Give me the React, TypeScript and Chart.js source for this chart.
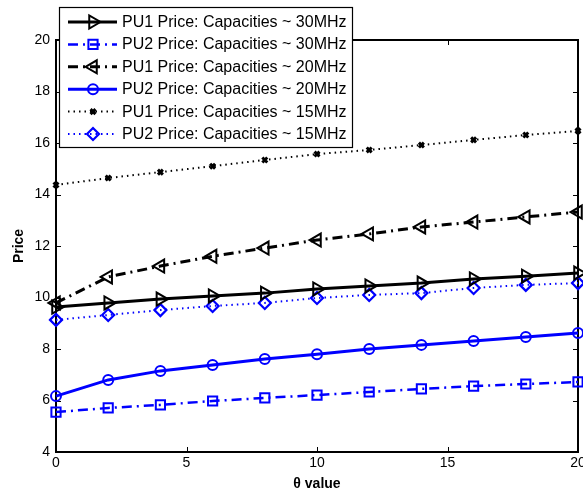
import React, { useEffect, useRef } from 'react';
import { Chart, registerables } from 'chart.js';
import { drawPoint } from 'chart.js/helpers';

Chart.register(...registerables);

const thetaValues = [0, 2, 4, 6, 8, 10, 12, 14, 16, 18, 20];
const pu1Cap30 = [9.63, 9.79, 9.94, 10.06, 10.17, 10.33, 10.45, 10.56, 10.72, 10.83, 10.95];
const pu2Cap30 = [5.55, 5.71, 5.83, 5.98, 6.1, 6.21, 6.33, 6.45, 6.56, 6.64, 6.72];
const pu1Cap20 = [9.79, 10.8, 11.22, 11.6, 11.92, 12.23, 12.47, 12.74, 12.93, 13.13, 13.32];
const pu2Cap20 = [6.17, 6.8, 7.15, 7.38, 7.61, 7.8, 8.0, 8.16, 8.31, 8.47, 8.62];
const pu1Cap15 = [14.37, 14.64, 14.87, 15.1, 15.34, 15.57, 15.73, 15.92, 16.12, 16.31, 16.47];
const pu2Cap15 = [9.13, 9.32, 9.51, 9.67, 9.79, 9.98, 10.1, 10.17, 10.37, 10.49, 10.56];

const seriesLabels = [
  'PU1 Price: Capacities ~ 30MHz',
  'PU2 Price: Capacities ~ 30MHz',
  'PU1 Price: Capacities ~ 20MHz',
  'PU2 Price: Capacities ~ 20MHz',
  'PU1 Price: Capacities ~ 15MHz',
  'PU2 Price: Capacities ~ 15MHz',
];
const xTickValues = [0, 5, 10, 15, 20];
const yTickValues = [4, 6, 8, 10, 12, 14, 16, 18, 20];
const xTitle = 'θ value';
const yTitle = 'Price';

const FONT = "'Liberation Sans', Arial, sans-serif";
const BLACK = '#000000';
const BLUE = '#0000ff';
const DOT = [1.5, 4];
const DASHDOT = [10, 5, 2, 5];

const toPoints = (ys: number[]) => ys.map((y, i) => ({ x: thetaValues[i], y }));

const frameAndTicks = {
  id: 'frameAndTicks',
  beforeDatasetsDraw(chart: any) {
    const { ctx, chartArea } = chart;
    const { left, right, top, bottom } = chartArea;
    const xs = chart.scales.x;
    const ys = chart.scales.y;
    ctx.save();
    ctx.strokeStyle = BLACK;
    ctx.lineWidth = 2;
    ctx.setLineDash([]);
    ctx.strokeRect(left, top, right - left, bottom - top);
    ctx.lineWidth = 1;
    const tl = 5;
    ctx.beginPath();
    xTickValues.forEach((v) => {
      const px = Math.round(xs.getPixelForValue(v)) + 0.5;
      ctx.moveTo(px, bottom);
      ctx.lineTo(px, bottom - tl);
      ctx.moveTo(px, top);
      ctx.lineTo(px, top + tl);
    });
    yTickValues.forEach((v) => {
      const py = Math.round(ys.getPixelForValue(v)) + 0.5;
      ctx.moveTo(left, py);
      ctx.lineTo(left + tl, py);
      ctx.moveTo(right, py);
      ctx.lineTo(right - tl, py);
    });
    ctx.stroke();
    ctx.restore();
  },
};

const boxLegend = {
  id: 'boxLegend',
  afterDraw(chart: any) {
    const { ctx } = chart;
    const bx = 59, by = 7, bw = 293, bh = 140;
    ctx.save();
    ctx.fillStyle = '#ffffff';
    ctx.fillRect(bx, by, bw, bh);
    ctx.strokeStyle = BLACK;
    ctx.lineWidth = 1.2;
    ctx.setLineDash([]);
    ctx.strokeRect(bx + 0.5, by + 0.5, bw, bh);
    chart.data.datasets.forEach((ds: any, i: number) => {
      const cy = 22 + i * 22.4;
      ctx.save();
      ctx.strokeStyle = ds.borderColor;
      ctx.lineWidth = ds.borderWidth;
      ctx.setLineDash(ds.borderDash || []);
      ctx.beginPath();
      ctx.moveTo(68, cy);
      ctx.lineTo(117, cy);
      ctx.stroke();
      ctx.setLineDash([]);
      ctx.fillStyle = 'rgba(0,0,0,0)';
      ctx.lineWidth = ds.pointBorderWidth;
      drawPoint(ctx, {
        pointStyle: ds.pointStyle,
        rotation: ds.pointRotation || 0,
        radius: ds.pointRadius,
        borderWidth: ds.pointBorderWidth,
      } as any, 93, cy);
      ctx.restore();
      ctx.fillStyle = BLACK;
      ctx.font = `16px ${FONT}`;
      ctx.textBaseline = 'middle';
      ctx.textAlign = 'left';
      ctx.fillText(ds.label, 122, cy + 0.5);
    });
    ctx.restore();
  },
};

export default function App() {
  const ref = useRef<HTMLCanvasElement | null>(null);
  useEffect(() => {
    document.body.style.margin = '0';
    const canvas = ref.current!;
    const mk = (
      label: string,
      data: number[],
      color: string,
      dash: number[],
      style: string,
      radius: number,
      rotation = 0,
      width = 2.5,
      pbw = 2,
    ) => ({
      label,
      data: toPoints(data),
      borderColor: color,
      backgroundColor: 'rgba(0,0,0,0)',
      borderWidth: width,
      borderDash: dash,
      pointStyle: style,
      pointRadius: radius,
      pointRotation: rotation,
      pointBorderWidth: pbw,
      pointBorderColor: color,
      pointBackgroundColor: 'rgba(0,0,0,0)',
      tension: 0,
      clip: false,
    });
    const chart = new Chart(canvas, {
      type: 'line',
      data: {
        datasets: [
          mk(seriesLabels[0], pu1Cap30, BLACK, [], 'triangle', 7.5, 90, 3, 2),
          mk(seriesLabels[1], pu2Cap30, BLUE, DASHDOT, 'rect', 6.5, 0, 2.5, 2),
          mk(seriesLabels[2], pu1Cap20, BLACK, DASHDOT, 'triangle', 7.5, -90, 3, 2),
          mk(seriesLabels[3], pu2Cap20, BLUE, [], 'circle', 5, 0, 3, 2),
          mk(seriesLabels[4], pu1Cap15, BLACK, DOT, 'crossRot', 3.5, 0, 2, 3),
          mk(seriesLabels[5], pu2Cap15, BLUE, DOT, 'rectRot', 6, 0, 2, 2.2),
        ] as any,
      },
      options: {
        responsive: false,
        animation: false,
        devicePixelRatio: 1,
        layout: { autoPadding: false, padding: { top: 40, right: 5, left: 0, bottom: 0 } },
        plugins: { legend: { display: false }, tooltip: { enabled: false } },
        scales: {
          x: {
            type: 'linear',
            min: 0,
            max: 20,
            afterBuildTicks: (s: any) => {
              s.ticks = xTickValues.map((v) => ({ value: v }));
            },
            afterFit: (s: any) => {
              s.height = 42;
              s.paddingLeft = 0;
              s.paddingRight = 0;
            },
            grid: { display: false, drawTicks: false },
            border: { display: false },
            ticks: { color: BLACK, font: { size: 14, family: FONT }, padding: 3, maxRotation: 0, autoSkip: false },
            title: { display: true, text: xTitle, color: BLACK, font: { size: 14, weight: 'bold', family: FONT }, padding: { top: 0, bottom: 1 } },
          },
          y: {
            type: 'linear',
            min: 4,
            max: 20,
            afterBuildTicks: (s: any) => {
              s.ticks = yTickValues.map((v) => ({ value: v }));
            },
            afterFit: (s: any) => {
              s.width = 56;
              s.paddingTop = 0;
              s.paddingBottom = 0;
            },
            grid: { display: false, drawTicks: false },
            border: { display: false },
            ticks: { color: BLACK, font: { size: 14, family: FONT }, padding: 6, autoSkip: false },
            title: { display: true, text: yTitle, color: BLACK, font: { size: 14, weight: 'bold', family: FONT }, padding: { top: 11, bottom: 0 } },
          },
        },
      } as any,
      plugins: [frameAndTicks, boxLegend],
    });
    return () => chart.destroy();
  }, []);
  return <canvas ref={ref} width={583} height={494} style={{ display: 'block' }} />;
}
